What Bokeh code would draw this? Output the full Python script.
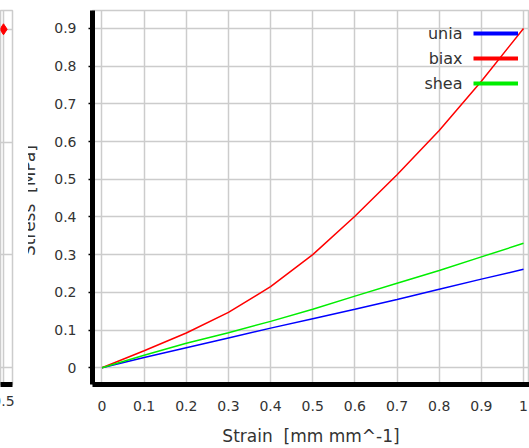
import math
from bokeh.plotting import figure
from bokeh.layouts import row
from bokeh.models import Label, Legend, LegendItem, FixedTicker, ColumnDataSource, Range1d
from bokeh.embed import file_html
from bokeh.resources import INLINE

# ---- data (main chart) ----
strain = [0.0, 0.1, 0.2, 0.3, 0.4, 0.5, 0.6, 0.7, 0.8, 0.9, 1.0]
unia = [0.0, 0.027, 0.053, 0.079, 0.105, 0.130, 0.155, 0.181, 0.208, 0.235, 0.261]
biax = [0.0, 0.045, 0.092, 0.147, 0.215, 0.300, 0.402, 0.512, 0.629, 0.760, 0.900]
shea = [0.0, 0.033, 0.065, 0.093, 0.123, 0.155, 0.190, 0.224, 0.258, 0.294, 0.330]
series_names = ["unia", "biax", "shea"]
series_colors = ["#0000ff", "#ff0000", "#00ee00"]

x_ticks = [0, 0.1, 0.2, 0.3, 0.4, 0.5, 0.6, 0.7, 0.8, 0.9, 1.0]
x_tick_labels = ["0", "0.1", "0.2", "0.3", "0.4", "0.5", "0.6", "0.7", "0.8", "0.9", "1"]
y_ticks = [0, 0.1, 0.2, 0.3, 0.4, 0.5, 0.6, 0.7, 0.8, 0.9]
y_tick_labels = ["0", "0.1", "0.2", "0.3", "0.4", "0.5", "0.6", "0.7", "0.8", "0.9"]

# ---- data (partially visible neighbouring chart) ----
left_x = [0.5]
left_y = [0.9]
left_x_ticks = [0.5]
left_x_tick_labels = ["0.5"]
left_y_ticks = [0, 0.3, 0.6, 0.9]

TEXT = "#333333"
GRID = "#cccccc"
FONT = "DejaVu Sans"
NB = "\u00a0"

# ---- left (cut-off) figure ----
lf = figure(width=28, height=448, output_backend="svg", toolbar_location=None,
            x_range=Range1d(0.475, 0.575), y_range=Range1d(-0.045, 0.95),
            y_axis_location=None, min_border_left=0, min_border_right=16,
            min_border_top=8, min_border_bottom=63)
lf.scatter(left_x, left_y, marker="diamond", size=11, color="#ff0000")
lf.xaxis.ticker = FixedTicker(ticks=left_x_ticks)
lf.xaxis.major_label_overrides = {t: "" for t in left_x_ticks}
lf.xaxis.axis_line_width = 5
lf.xaxis.axis_line_color = "black"
lf.xaxis.major_tick_out = 0
lf.xaxis.major_tick_in = 0
lf.xaxis.minor_tick_line_color = None
# tick label drawn as a label so that it is cut by the page edge like in the original
lf.add_layout(Label(x=left_x_ticks[0], y=-6, x_units="data", y_units="screen",
                    text=left_x_tick_labels[0], text_align="center", text_baseline="middle",
                    text_font=FONT, text_font_size="14px", text_color=TEXT), "below")
lf.xgrid.ticker = FixedTicker(ticks=left_x_ticks)
lf.ygrid.ticker = FixedTicker(ticks=left_y_ticks)
lf.grid.grid_line_color = GRID
lf.grid.grid_line_width = 1.5
lf.outline_line_color = GRID
lf.outline_line_width = 1.5

# ---- main figure ----
p = figure(width=501, height=448, output_backend="svg", toolbar_location=None,
           x_range=Range1d(-0.0225, 1.0142), y_range=Range1d(-0.0445, 0.9476),
           min_border_left=64, min_border_right=0, min_border_top=10, min_border_bottom=59)

src = ColumnDataSource(dict(strain=strain, unia=unia, biax=biax, shea=shea))
for name, col in zip(series_names, series_colors):
    p.line("strain", name, source=src, line_color=col, line_width=1.5)

# legend proxies (thick sample lines, nothing drawn in the plot)
proxy_src = ColumnDataSource(dict(x=[float("nan")], y=[float("nan")]))
items = []
for name, col in zip(series_names, series_colors):
    r = p.line("x", "y", source=proxy_src, line_color=col, line_width=4)
    items.append(LegendItem(label=NB, renderers=[r]))
legend = Legend(items=items, location=(381, 291), padding=0, margin=0, spacing=5,
                glyph_width=45, glyph_height=20, label_height=20, label_width=1,
                label_standoff=0, label_text_font_size="2px",
                border_line_alpha=0, background_fill_alpha=0)
p.add_layout(legend, "center")

for i, name in enumerate(series_names):
    p.add_layout(Label(x=370, y=351 - 25 * i, x_units="screen", y_units="screen",
                       text=name, text_align="right", text_baseline="middle",
                       text_font=FONT, text_font_size="16px", text_color=TEXT))

# axes
p.xaxis.ticker = FixedTicker(ticks=x_ticks)
p.xaxis.major_label_overrides = dict(zip(x_ticks, x_tick_labels))
p.yaxis.ticker = FixedTicker(ticks=y_ticks)
p.yaxis.major_label_overrides = dict(zip(y_ticks, y_tick_labels))
for ax in (p.xaxis, p.yaxis):
    ax.axis_line_width = 5
    ax.axis_line_color = "black"
    ax.minor_tick_line_color = None
    ax.major_label_text_font = FONT
    ax.major_label_text_font_size = "14px"
    ax.major_label_text_color = TEXT
p.xaxis.major_tick_out = 0
p.xaxis.major_tick_in = 0
p.xaxis.major_label_standoff = 16
p.yaxis.major_tick_out = 4
p.yaxis.major_tick_in = 0
p.yaxis.major_tick_line_width = 1.5
p.yaxis.major_tick_line_color = "black"
p.yaxis.major_label_standoff = 12

p.xaxis.axis_label = "Strain" + NB + NB + "[mm mm^-1]"
p.xaxis.axis_label_text_font = FONT
p.xaxis.axis_label_text_font_size = "17px"
p.xaxis.axis_label_text_font_style = "normal"
p.xaxis.axis_label_text_color = TEXT
p.xaxis.axis_label_standoff = 12

# y label, partly hidden behind the neighbouring chart
p.add_layout(Label(x=-3, y=184, x_units="screen", y_units="screen",
                   text="Stress" + NB + NB + "[MPa]", angle=math.pi / 2,
                   text_align="center", text_baseline="alphabetic",
                   text_font=FONT, text_font_size="17px", text_color=TEXT), "left")

p.grid.grid_line_color = GRID
p.grid.grid_line_width = 1.5
p.outline_line_color = GRID
p.outline_line_width = 1.5

layout = row(lf, p)
open("out.html", "w").write(file_html(layout, INLINE))
